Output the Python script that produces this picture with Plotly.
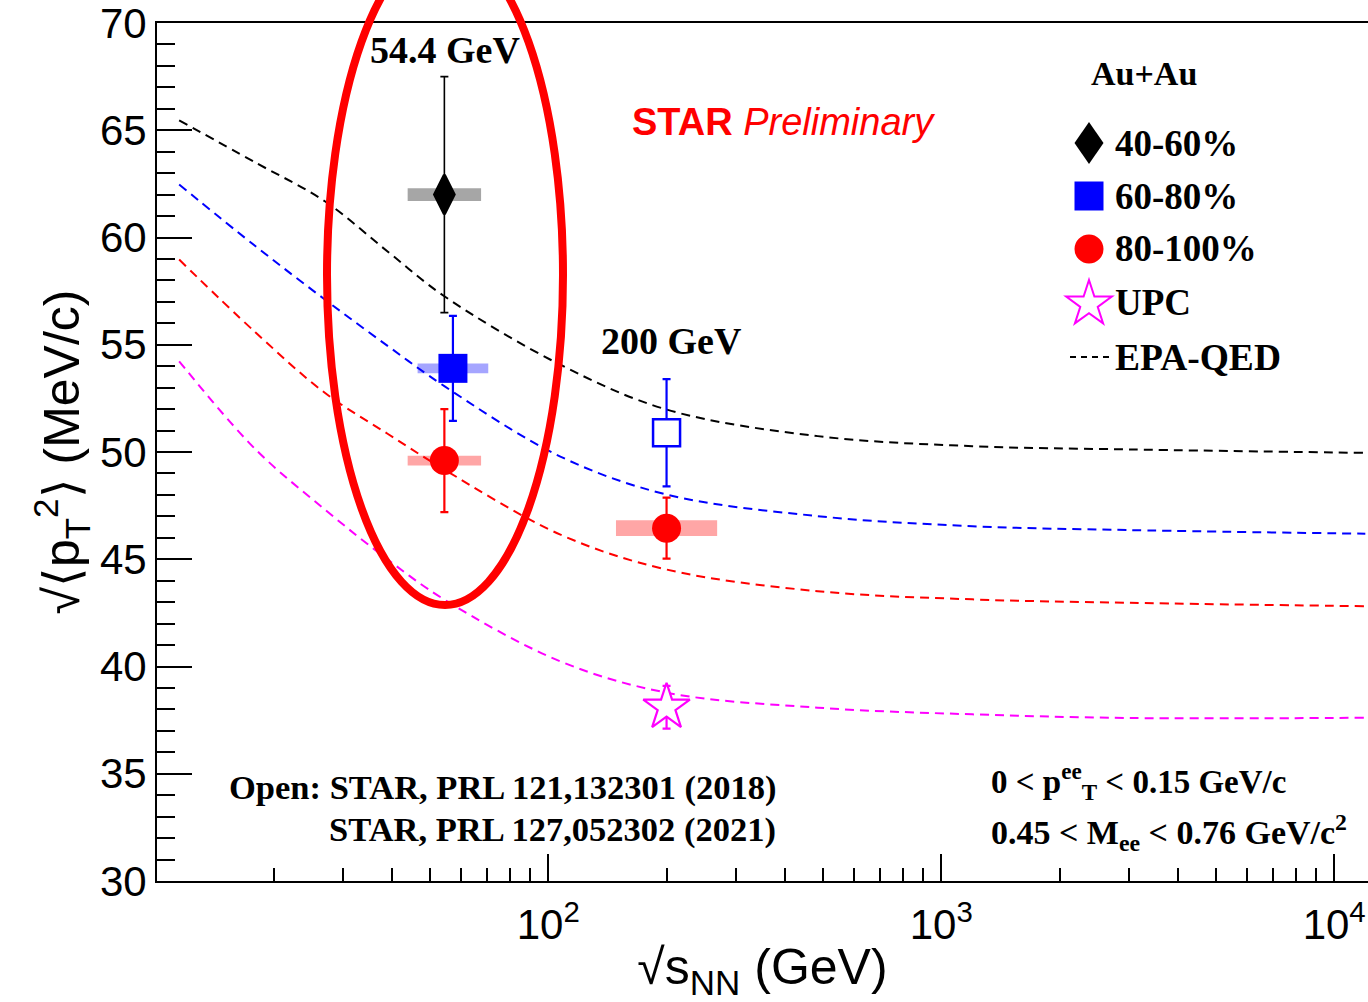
import math
import plotly.graph_objects as go

# ---------------- data ----------------
# EPA-QED calculations (dashed curves)
epa_energy = [11.5, 18, 27, 39, 54.4, 107, 200, 485, 1200, 3000, 12000]
epa_4060 = [65.46, 63.49, 61.69, 59.35, 57.26, 54.08, 51.98, 50.74, 50.27, 50.12, 49.96]
epa_6080 = [62.47, 59.59, 57.11, 54.95, 53.07, 49.80, 48.02, 47.01, 46.54, 46.36, 46.19]
epa_80100 = [58.97, 55.57, 52.76, 50.85, 49.18, 46.16, 44.52, 43.51, 43.13, 42.97, 42.81]
epa_upc = [54.23, 50.12, 47.32, 44.99, 43.12, 40.25, 38.78, 38.08, 37.77, 37.60, 37.61]

# measurements
c4060_energy = [54.4]
c4060_val = [62.0]
c4060_stat = [5.5]
c4060_sys = [0.3]

c6080_energy = [57.2]
c6080_val = [53.9]
c6080_stat = [2.45]
c6080_sys = [0.23]

c6080_open_energy = [200]
c6080_open_val = [50.9]
c6080_open_stat = [2.5]

c80100_energy = [54.4, 200]
c80100_val = [49.6, 46.45]
c80100_stat = [2.4, 1.42]
c80100_sys = [0.23, 0.37]

upc_energy = [200]
upc_val = [38.1]
upc_stat = [1.0]

x_tickvals = [100, 1000, 10000]
x_ticktext = ["10<sup>2</sup>", "10<sup>3</sup>", "10<sup>4</sup>"]

# ---------------- layout helpers ----------------
W, H = 1368, 1002
ML, MR, MT, MB = 157, 0, 23, 121
PW, PH = W - ML - MR, H - MT - MB


def px(x):
    return (x - ML) / PW


def py(y):
    return (H - MB - y) / PH


SANS = "Liberation Sans, Arial, Helvetica, sans-serif"
SERIF = "Liberation Serif, Times New Roman, serif"

fig = go.Figure()


def box_trace(xs, ys, dys, factors, color):
    X, Y = [], []
    for x, y, dy, f in zip(xs, ys, dys, factors):
        X += [x / f, x * f, x * f, x / f, x / f, None]
        Y += [y - dy, y - dy, y + dy, y + dy, y - dy, None]
    return go.Scatter(x=X, y=Y, mode="lines", fill="toself", fillcolor=color,
                      line=dict(width=0, color=color), hoverinfo="skip",
                      showlegend=False)


# systematic boxes
fig.add_trace(box_trace(c4060_energy, c4060_val, c4060_sys, [1.24], "rgb(166,166,166)"))
fig.add_trace(box_trace(c6080_energy, c6080_val, c6080_sys, [1.23], "rgb(165,165,255)"))
fig.add_trace(box_trace(c80100_energy, c80100_val, c80100_sys, [1.24, 1.345], "rgb(255,166,166)"))

# EPA-QED curves
for vals, col in [(epa_4060, "black"), (epa_6080, "#0000ff"),
                  (epa_80100, "#ff0000"), (epa_upc, "#ff00ff")]:
    fig.add_trace(go.Scatter(x=epa_energy, y=vals, mode="lines",
                             line=dict(color=col, width=2, dash="9px,6px", shape="spline"),
                             showlegend=False, hoverinfo="skip"))

# data points
fig.add_trace(go.Scatter(
    x=c4060_energy, y=c4060_val, mode="markers",
    marker=dict(symbol="diamond-tall", size=28, color="black", line=dict(width=3, color="black")),
    error_y=dict(type="data", array=c4060_stat, color="black", thickness=1.6, width=4),
    showlegend=False))
fig.add_trace(go.Scatter(
    x=c6080_energy, y=c6080_val, mode="markers",
    marker=dict(symbol="square", size=29, color="#0000ff", line=dict(width=0)),
    error_y=dict(type="data", array=c6080_stat, color="#0000ff", thickness=2.2, width=4),
    showlegend=False))
fig.add_trace(go.Scatter(
    x=c6080_open_energy, y=c6080_open_val, mode="markers",
    marker=dict(symbol="square", size=27, color="white", line=dict(width=2.5, color="#0000ff")),
    error_y=dict(type="data", array=c6080_open_stat, color="#0000ff", thickness=2.2, width=4),
    showlegend=False))
fig.add_trace(go.Scatter(
    x=c80100_energy, y=c80100_val, mode="markers",
    marker=dict(symbol="circle", size=29, color="#ff0000", line=dict(width=0)),
    error_y=dict(type="data", array=c80100_stat, color="#ff0000", thickness=2.2, width=4),
    showlegend=False))
fig.add_trace(go.Scatter(
    x=upc_energy, y=upc_val, mode="markers",
    marker=dict(symbol="star", size=35, color="white", line=dict(width=2.2, color="#ff00ff")),
    error_y=dict(type="data", array=upc_stat, color="#ff00ff", thickness=2.2, width=4),
    showlegend=False))

shapes = []
# highlight ellipse around 54.4 GeV
shapes.append(dict(type="circle", xref="paper", yref="paper",
                   x0=px(327), x1=px(563), y0=py(605), y1=py(-55),
                   line=dict(color="#ff0000", width=8)))

# custom legend glyphs
cx = 1089
# diamond
cy, hw, hh = 143, 14.5, 21
shapes.append(dict(type="path", xref="paper", yref="paper",
                   path=f"M{px(cx)},{py(cy-hh)} L{px(cx+hw)},{py(cy)} L{px(cx)},{py(cy+hh)} L{px(cx-hw)},{py(cy)} Z",
                   fillcolor="black", line=dict(width=0)))
# square
cy, s = 196, 14.5
shapes.append(dict(type="rect", xref="paper", yref="paper",
                   x0=px(cx - s), x1=px(cx + s), y0=py(cy + s), y1=py(cy - s),
                   fillcolor="#0000ff", line=dict(width=0)))
# circle
cy, r = 249, 14.5
shapes.append(dict(type="circle", xref="paper", yref="paper",
                   x0=px(cx - r), x1=px(cx + r), y0=py(cy + r), y1=py(cy - r),
                   fillcolor="#ff0000", line=dict(width=0)))
# star
cy, R = 304, 24
pts = []
for k in range(10):
    a = math.radians(-90 + 36 * k)
    rr = R if k % 2 == 0 else R * 0.382
    pts.append((px(cx + rr * math.cos(a)), py(cy + rr * math.sin(a))))
path = "M" + " L".join(f"{a},{b}" for a, b in pts) + " Z"
shapes.append(dict(type="path", xref="paper", yref="paper", path=path,
                   line=dict(color="#ff00ff", width=2)))
# dashed line
shapes.append(dict(type="line", xref="paper", yref="paper",
                   x0=px(1070), x1=px(1110), y0=py(357), y1=py(357),
                   line=dict(color="black", width=2, dash="6px,5px")))

annotations = []


def txt(text, x, y, size, family=SERIF, color="black", xanchor="left"):
    annotations.append(dict(text=text, x=px(x), y=py(y), xref="paper", yref="paper",
                            showarrow=False, xanchor=xanchor, yanchor="middle",
                            font=dict(family=family, size=size, color=color)))


txt("<b>Au+Au</b>", 1089, 73, 34)
txt("<b>40-60%</b>", 1113, 143, 37)
txt("<b>60-80%</b>", 1113, 196, 37)
txt("<b>80-100%</b>", 1113, 249, 37)
txt("<b>UPC</b>", 1113, 302, 37)
txt("<b>EPA-QED</b>", 1113, 357, 37.5)

txt("<b>54.4 GeV</b>", 445, 50, 38, xanchor="center")
txt("<b>200 GeV</b>", 671, 341, 38, xanchor="center")
txt("<b>STAR</b> <i>Preliminary</i>", 630, 122, 38, family=SANS, color="#ff0000")

txt("<b>Open: STAR, PRL 121,132301 (2018)</b>", 227, 787, 34.5)
txt("<b>STAR, PRL 127,052302 (2021)</b>", 327, 829, 34.5)
txt("<b>0 < p<sup>ee</sup><sub>T</sub> < 0.15 GeV/c</b>", 989, 781, 33)
txt("<b>0.45 < M<sub>ee</sub> < 0.76 GeV/c<sup>2</sup></b>", 989, 832, 34)

fig.update_layout(
    width=W, height=H,
    margin=dict(l=ML, r=MR, t=MT, b=MB, pad=0, autoexpand=False),
    paper_bgcolor="white", plot_bgcolor="white",
    shapes=shapes, annotations=annotations,
    showlegend=False,
    xaxis=dict(
        type="log", range=[math.log10(10.1), 4.086], automargin=False,
        tickmode="array", tickvals=x_tickvals, ticktext=x_ticktext,
        ticks="inside", ticklen=27, tickwidth=1.5, tickcolor="black",
        minor=dict(ticks="inside", ticklen=13, tickwidth=1.5, tickcolor="black", dtick="D1", showgrid=False),
        showgrid=False, zeroline=False,
        showline=True, linecolor="black", linewidth=2, mirror=True,
        tickfont=dict(family=SANS, size=42, color="black"),
        ticklabelstandoff=6, ticklabeloverflow="allow",
        title=dict(text="√s<sub>NN</sub> (GeV)", font=dict(family=SANS, size=50, color="black"), standoff=4),
    ),
    yaxis=dict(
        range=[30, 70], tick0=30, dtick=5, automargin=False,
        ticks="inside", ticklen=35, tickwidth=2, tickcolor="black",
        minor=dict(ticks="inside", ticklen=18, tickwidth=2, tickcolor="black", dtick=1, showgrid=False),
        showgrid=False, zeroline=False,
        showline=True, linecolor="black", linewidth=2, mirror=False,
        tickfont=dict(family=SANS, size=42, color="black"),
        ticklabelstandoff=0, ticklabeloverflow="allow",
        title=dict(text="√⟨p<sub>T</sub><sup>2</sup>⟩ (MeV/c)", font=dict(family=SANS, size=50, color="black"), standoff=4),
    ),
)

fig.write_html("out.html", config={"displayModeBar": False},
               post_script="document.body.style.margin='0px';document.body.style.overflow='hidden';")
